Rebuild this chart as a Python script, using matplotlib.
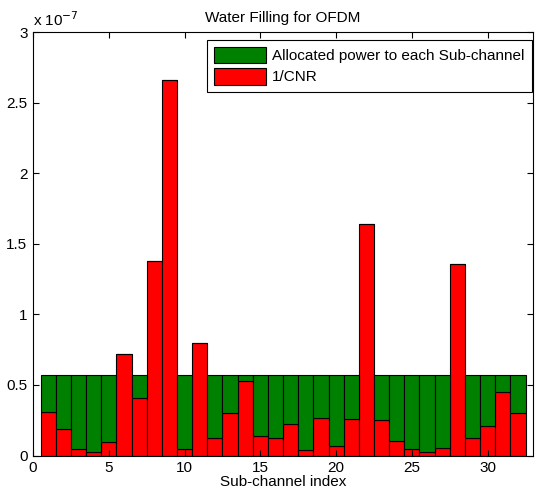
import numpy as np
import matplotlib.pyplot as plt

plt.rcParams['font.family'] = ['Liberation Sans', 'DejaVu Sans']
plt.rcParams['font.size'] = 11

# values in units of 1e-7
water_level = 0.57
inv_cnr = [0.31, 0.19, 0.047, 0.026, 0.097, 0.716, 0.404, 1.376,
           2.66, 0.047, 0.80, 0.123, 0.30, 0.53, 0.14, 0.123,
           0.225, 0.04, 0.267, 0.064, 0.26, 1.638, 0.248, 0.104,
           0.047, 0.026, 0.054, 1.355, 0.123, 0.208, 0.45, 0.30]
channels = np.arange(1, len(inv_cnr) + 1)
power = np.maximum(water_level - np.array(inv_cnr), 0)

fig = plt.figure(figsize=(5.36, 5.0), dpi=100)
ax = fig.add_axes([0.0616, 0.089, 0.933, 0.847])

ax.bar(channels, inv_cnr, width=1.0, color='#ff0000', edgecolor='black',
       linewidth=0.8, label='1/CNR')
ax.bar(channels, power, bottom=inv_cnr, width=1.0, color='#008000',
       edgecolor='black', linewidth=0.8,
       label='Allocated power to each Sub-channel')

ax.set_xlim(0, 33)
ax.set_ylim(0, 3)
ax.set_xticks(range(0, 31, 5))
ax.set_yticks(np.arange(0, 3.01, 0.5))
ax.set_yticklabels(['0', '0.5', '1', '1.5', '2', '2.5', '3'])
ax.tick_params(direction='in', top=True, right=True, length=4, pad=4)
ax.set_title('Water Filling for OFDM', fontsize=11, pad=7)
ax.set_xlabel('Sub-channel index', labelpad=0)
ax.text(0.0, 1.008, r'x 10$^{-7}$', transform=ax.transAxes, ha='left',
        va='bottom')

handles, labels = ax.get_legend_handles_labels()
leg = ax.legend(handles[::-1], labels[::-1], loc='upper right',
                bbox_to_anchor=(1.0, 0.985), fancybox=False,
                edgecolor='black', framealpha=1, handlelength=3.4,
                handleheight=1.3, borderaxespad=0.1, labelspacing=0.3,
                handletextpad=0.4, borderpad=0.45)
leg.get_frame().set_linewidth(0.8)

fig.savefig('out.png', dpi=100)
